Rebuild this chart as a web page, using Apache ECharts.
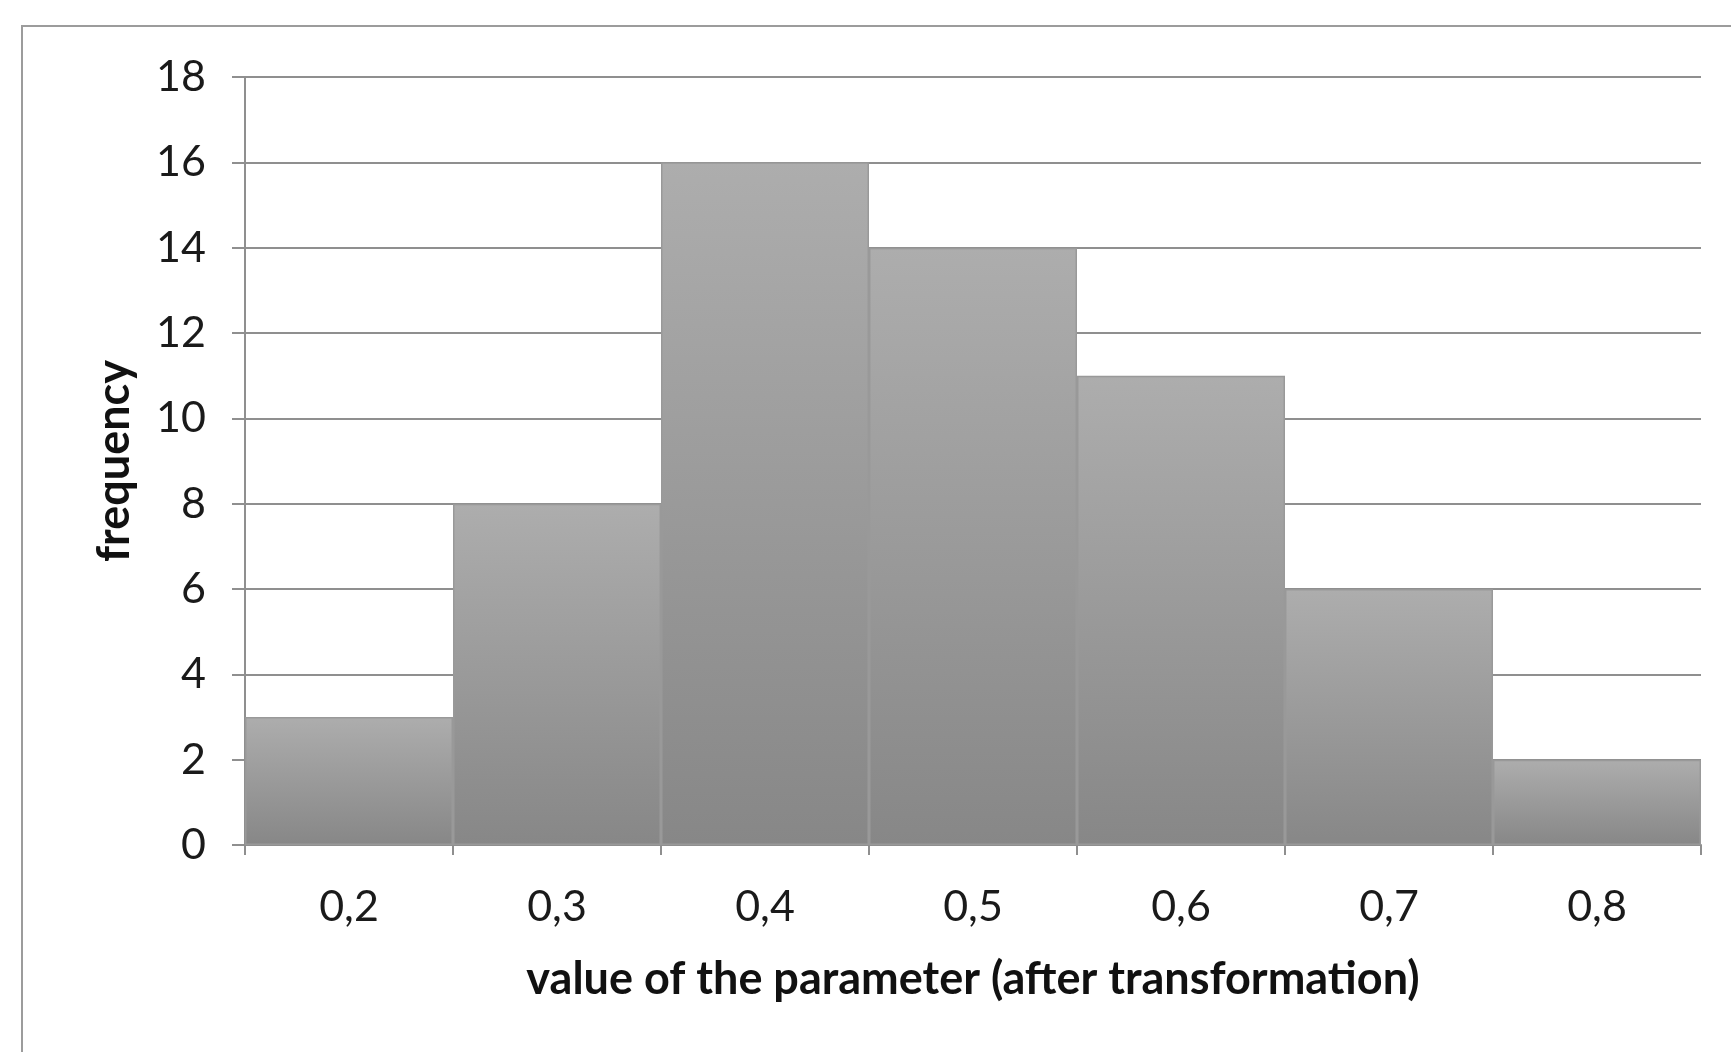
<!DOCTYPE html>
<html>
<head>
<meta charset="utf-8">
<script src="https://cdn.jsdelivr.net/npm/echarts@6/dist/echarts.min.js"></script>
<style>
  html, body { margin: 0; padding: 0; background: #ffffff; }
  #chart { width: 1731px; height: 1052px; }
</style>
</head>
<body>
<div id="chart"></div>
<script>
// Histogram of the transformed parameter values
const binLabels = ['0,2', '0,3', '0,4', '0,5', '0,6', '0,7', '0,8'];
const frequencies = [3, 8, 16, 14, 11, 6, 2];
const yTicks = { min: 0, max: 18, interval: 2 };

const xTitle = 'value of the parameter (after transformation)';
const yTitle = 'frequency';

const chart = echarts.init(document.getElementById('chart'), null, { renderer: 'canvas' });

const FONT = 'Lato, "Open Sans", sans-serif';
const LINE = '#8f8f8f';

chart.setOption({
  animation: false,
  backgroundColor: '#ffffff',
  graphic: [{
    type: 'rect',
    shape: { x: 22, y: 26, width: 1800, height: 1100 },
    style: { fill: 'none', stroke: '#9c9c9c', lineWidth: 2 },
    silent: true,
    z: -1
  }],
  grid: { left: 245, right: 30, top: 77, bottom: 207, containLabel: false },
  xAxis: {
    type: 'category',
    data: binLabels,
    boundaryGap: true,
    name: xTitle,
    nameLocation: 'middle',
    nameGap: 112,
    nameTextStyle: { fontFamily: FONT, fontWeight: 'bold', fontSize: 45, color: '#111' },
    axisLine: { lineStyle: { color: LINE, width: 2 } },
    axisTick: { show: true, length: 10, lineStyle: { color: LINE, width: 2 } },
    axisLabel: { margin: 41, fontFamily: FONT, fontSize: 43, color: '#1a1a1a' },
    splitLine: { show: false }
  },
  yAxis: {
    type: 'value',
    min: yTicks.min,
    max: yTicks.max,
    interval: yTicks.interval,
    name: yTitle,
    nameLocation: 'middle',
    nameGap: 108,
    nameRotate: 90,
    nameTextStyle: { fontFamily: FONT, fontWeight: 'bold', fontSize: 45, color: '#111' },
    axisLine: { show: true, lineStyle: { color: LINE, width: 2 } },
    axisTick: { show: true, length: 13, lineStyle: { color: LINE, width: 2 } },
    axisLabel: { margin: 39, fontFamily: FONT, fontSize: 43, color: '#1a1a1a' },
    splitLine: { show: true, lineStyle: { color: LINE, width: 2 } }
  },
  series: [{
    type: 'bar',
    data: frequencies,
    barCategoryGap: '0%',
    itemStyle: {
      color: new echarts.graphic.LinearGradient(0, 0, 0, 1, [
        { offset: 0, color: '#adadad' },
        { offset: 1, color: '#878787' }
      ]),
      borderColor: '#999999',
      borderWidth: 1.5
    }
  }]
});
</script>
</body>
</html>
